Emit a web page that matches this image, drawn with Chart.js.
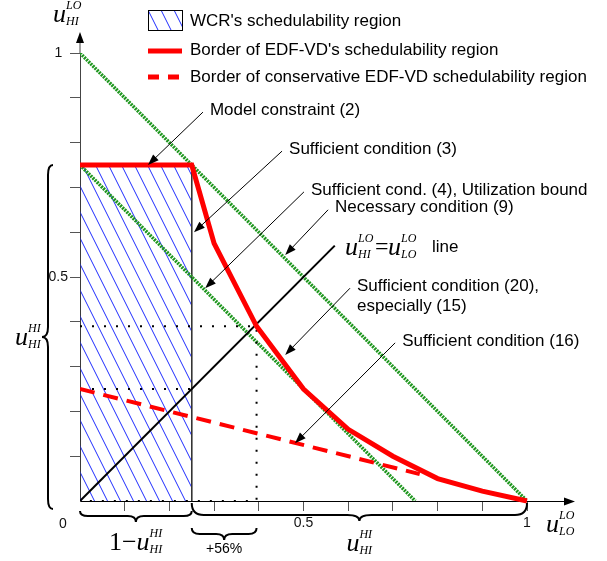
<!DOCTYPE html>
<html>
<head>
<meta charset="utf-8">
<script src="https://cdn.jsdelivr.net/npm/chart.js@4.4.0/dist/chart.umd.min.js"></script>
<style>
  html, body { margin: 0; padding: 0; background: #fff; }
  #wrap { width: 607px; height: 561px; }
</style>
</head>
<body>
<div id="wrap"><canvas id="myChart" width="607" height="561"></canvas></div>
<script>
// valori (piano u_LO^LO / u_HI^LO, entrambi 0..1)
const labelledTicks = [0.5, 1];
const labelledTickText = ["0.5", "1"];

// regione WCR (rettangolo tratteggiato)
const wcrX = [0, 0, 0.25, 0.25];
const wcrY = [0, 0.75, 0.75, 0];

// bordo EDF-VD
const edfX = [0, 0.25, 0.3, 0.395, 0.5, 0.6, 0.7, 0.8, 0.9, 1];
const edfY = [0.75, 0.75, 0.575, 0.39, 0.25, 0.16, 0.1, 0.05, 0.022, 0];

// bordo EDF-VD conservativo
const consX = [0, 0.76];
const consY = [0.25, 0.06];

// condizioni (9) e (4)
const necX = [0, 1];
const necY = [1, 0];
const utilX = [0, 0.75];
const utilY = [0.75, 0];

// retta u_HI^LO = u_LO^LO
const diagX = [0, 0.57];
const diagY = [0, 0.57];

// linee punteggiate
const dot1X = [0, 0.395, 0.395, 0];
const dot1Y = [0.39, 0.39, 0, 0];
const dot2X = [0, 0.25];
const dot2Y = [0.25, 0.25];

// annotazioni con freccia
const noteText = [
  "Model constraint (2)",
  "Sufficient condition (3)",
  "Sufficient cond. (4), Utilization bound",
  "Necessary condition (9)",
  "Sufficient condition (20),",
  "Sufficient condition (16)",
];
const noteFromX = [0.275, 0.452, 0.501, 0.555, 0.604, 0.705];
const noteFromY = [0.868, 0.781, 0.69, 0.65, 0.475, 0.353];
const noteToX = [0.152, 0.255, 0.28, 0.459, 0.459, 0.481];
const noteToY = [0.75, 0.6, 0.475, 0.549, 0.326, 0.129];

const legendText = [
  "WCR's schedulability region",
  "Border of EDF-VD's schedulability region",
  "Border of conservative EDF-VD schedulability region",
];

function toPts(xs, ys) {
  return xs.map((x, i) => ({ x: x, y: ys[i] }));
}

// pattern a righe blu
function makeHatch() {
  const c = document.createElement("canvas");
  c.width = 13;
  c.height = 26;
  const g = c.getContext("2d");
  g.strokeStyle = "#1f2cff";
  g.lineWidth = 1;
  for (let k = -1; k <= 1; k++) {
    g.beginPath();
    g.moveTo(k * 13, 0);
    g.lineTo(k * 13 + 13, 26);
    g.stroke();
  }
  return g.createPattern(c, "repeat");
}
const hatch = makeHatch();

function drawArrow(ctx, x1, y1, x2, y2) {
  const a = Math.atan2(y2 - y1, x2 - x1);
  const len = 11, half = 4;
  ctx.beginPath();
  ctx.moveTo(x1, y1);
  ctx.lineTo(x2 - Math.cos(a) * len * 0.8, y2 - Math.sin(a) * len * 0.8);
  ctx.stroke();
  ctx.beginPath();
  ctx.moveTo(x2, y2);
  ctx.lineTo(x2 - len * Math.cos(a) + half * Math.sin(a), y2 - len * Math.sin(a) - half * Math.cos(a));
  ctx.lineTo(x2 - len * Math.cos(a) - half * Math.sin(a), y2 - len * Math.sin(a) + half * Math.cos(a));
  ctx.closePath();
  ctx.fill();
}

function mathU(ctx, x, y, sup, sub) {
  ctx.textAlign = "left";
  ctx.textBaseline = "alphabetic";
  ctx.font = 'italic 26px "Liberation Serif"';
  ctx.fillText("u", x, y);
  const w = ctx.measureText("u").width;
  ctx.font = 'italic 12px "Liberation Serif"';
  ctx.fillText(sup, x + w, y - 13);
  ctx.fillText(sub, x + w, y + 3);
}

function hBrace(ctx, x1, x2, yEnd, ySpine, yTip, r) {
  const xm = (x1 + x2) / 2;
  ctx.beginPath();
  ctx.moveTo(x1, yEnd);
  ctx.quadraticCurveTo(x1, ySpine, x1 + r, ySpine);
  ctx.lineTo(xm - r, ySpine);
  ctx.quadraticCurveTo(xm, ySpine, xm, yTip);
  ctx.quadraticCurveTo(xm, ySpine, xm + r, ySpine);
  ctx.lineTo(x2 - r, ySpine);
  ctx.quadraticCurveTo(x2, ySpine, x2, yEnd);
  ctx.stroke();
}

function vBrace(ctx, y1, y2, xEnd, xSpine, xTip, r) {
  const ym = (y1 + y2) / 2;
  ctx.beginPath();
  ctx.moveTo(xEnd, y1);
  ctx.quadraticCurveTo(xSpine, y1, xSpine, y1 + r);
  ctx.lineTo(xSpine, ym - r);
  ctx.quadraticCurveTo(xSpine, ym, xTip, ym);
  ctx.quadraticCurveTo(xSpine, ym, xSpine, ym + r);
  ctx.lineTo(xSpine, y2 - r);
  ctx.quadraticCurveTo(xSpine, y2, xEnd, y2);
  ctx.stroke();
}

// disegni extra: assi con freccia, graffe, testi, legenda
const overlay = {
  id: "overlay",
  afterDraw(chart) {
    const ctx = chart.ctx;
    const xs = chart.scales.x, ys = chart.scales.y;
    const X = (v) => xs.getPixelForValue(v);
    const Y = (v) => ys.getPixelForValue(v);
    const x0 = X(0), y0 = Y(0);
    ctx.save();

    // frecce degli assi
    ctx.fillStyle = "#000";
    ctx.strokeStyle = "#444";
    ctx.lineWidth = 1;
    drawArrow(ctx, x0, Y(1), x0, 32);
    ctx.strokeStyle = "#000";
    drawArrow(ctx, X(1), y0 + 0.5, 575, y0 + 0.5);

    // origine
    ctx.font = '14px "Liberation Sans"';
    ctx.textAlign = "center";
    ctx.textBaseline = "middle";
    ctx.fillStyle = "#111";
    ctx.fillText("0", x0 - 17, y0 + 23);

    // graffe
    ctx.strokeStyle = "#000";
    ctx.lineWidth = 2;
    hBrace(ctx, X(0), X(0.25), y0 + 10, y0 + 15, y0 + 21, 8);
    hBrace(ctx, X(0.25), X(1), y0 + 2, y0 + 14, y0 + 20, 12);
    hBrace(ctx, X(0.25), X(0.395), y0 + 27, y0 + 33, y0 + 39, 8);
    vBrace(ctx, Y(0.75), y0 + 8, x0 - 27, x0 - 32, x0 - 38, 10);

    // etichette matematiche
    ctx.fillStyle = "#000";
    mathU(ctx, x0 - 27, 22, "LO", "HI");
    mathU(ctx, 546, y0 + 31, "LO", "LO");
    mathU(ctx, 15, Y(0.375) + 12, "HI", "HI");
    mathU(ctx, (X(0.25) + X(1)) / 2 - 13, y0 + 50, "HI", "HI");
    ctx.font = '26px "Liberation Serif"';
    ctx.fillText("1\u2212", X(0.125) - 27, y0 + 49);
    const wOne = ctx.measureText("1\u2212").width;
    mathU(ctx, X(0.125) - 27 + wOne, y0 + 49, "HI", "HI");

    ctx.font = '14px "Liberation Sans"';
    ctx.textAlign = "center";
    ctx.fillText("+56%", (X(0.25) + X(0.395)) / 2, y0 + 52);

    // equazione della retta
    const ex = 345, ey = 255;
    mathU(ctx, ex, ey, "LO", "HI");
    ctx.font = '24px "Liberation Serif"';
    ctx.textAlign = "left";
    ctx.fillText("=", ex + 30, ey - 1);
    mathU(ctx, ex + 43, ey, "LO", "LO");
    ctx.font = '17px "Liberation Sans"';
    ctx.textBaseline = "middle";
    ctx.fillText("line", ex + 87, ey - 8);

    // annotazioni
    ctx.lineWidth = 1;
    ctx.strokeStyle = "#000";
    ctx.fillStyle = "#000";
    for (let i = 0; i < noteText.length; i++) {
      const fx = X(noteFromX[i]), fy = Y(noteFromY[i]);
      drawArrow(ctx, fx, fy, X(noteToX[i]), Y(noteToY[i]));
      ctx.font = '17px "Liberation Sans"';
      ctx.textAlign = "left";
      ctx.textBaseline = "middle";
      ctx.fillText(noteText[i], fx + 7, fy - 2);
      if (i === 4) ctx.fillText("especially (15)", fx + 7, fy + 18);
    }

    // legenda
    const lx = 148, lw = 34;
    ctx.fillStyle = hatch;
    ctx.fillRect(lx, 10, lw, 20);
    ctx.strokeStyle = "#000";
    ctx.lineWidth = 1;
    ctx.strokeRect(lx + 0.5, 10.5, lw, 20);
    ctx.strokeStyle = "#ff0000";
    ctx.lineWidth = 5;
    ctx.beginPath();
    ctx.moveTo(lx, 51);
    ctx.lineTo(lx + lw, 51);
    ctx.stroke();
    ctx.setLineDash([11, 9]);
    ctx.beginPath();
    ctx.moveTo(lx, 77);
    ctx.lineTo(lx + lw, 77);
    ctx.stroke();
    ctx.setLineDash([]);
    ctx.fillStyle = "#000";
    ctx.font = '17px "Liberation Sans"';
    ctx.textAlign = "left";
    ctx.textBaseline = "middle";
    ctx.fillText(legendText[0], 190, 21);
    ctx.fillText(legendText[1], 190, 50);
    ctx.fillText(legendText[2], 190, 77);

    ctx.restore();
  },
};

const tickColor = (c) => (c.tick && c.tick.value === 0 ? "rgba(0,0,0,0)" : "#555");
const tickLabel = (value) => {
  const i = labelledTicks.findIndex((t) => Math.abs(t - value) < 1e-6);
  return i >= 0 ? labelledTickText[i] : "";
};

Chart.defaults.font.family = '"Liberation Sans", Arial, sans-serif';
Chart.defaults.color = "#111";

const ctx = document.getElementById("myChart").getContext("2d");
const myChart = new Chart(ctx, {
  type: "scatter",
  data: {
    datasets: [
      {
        data: toPts(edfX, edfY),
        showLine: true,
        borderColor: "#ff0000",
        borderWidth: 5,
        pointRadius: 0,
        clip: false,
        order: 1,
      },
      {
        data: toPts(consX, consY),
        showLine: true,
        borderColor: "#ff0000",
        borderWidth: 4,
        borderDash: [15, 9],
        pointRadius: 0,
        order: 2,
      },
      {
        data: toPts(diagX, diagY),
        showLine: true,
        borderColor: "#000",
        borderWidth: 2,
        pointRadius: 0,
        order: 3,
      },
      {
        data: toPts(dot1X, dot1Y),
        showLine: true,
        borderColor: "#000",
        borderWidth: 2,
        borderDash: [2, 10],
        pointRadius: 0,
        order: 4,
      },
      {
        data: toPts(dot2X, dot2Y),
        showLine: true,
        borderColor: "#000",
        borderWidth: 2,
        borderDash: [2, 10],
        pointRadius: 0,
        order: 4,
      },
      {
        data: toPts(necX, necY),
        showLine: true,
        borderColor: "rgb(30,150,30)",
        borderWidth: 3.5,
        borderDash: [2, 1],
        pointRadius: 0,
        order: 5,
      },
      {
        data: toPts(utilX, utilY),
        showLine: true,
        borderColor: "rgb(30,150,30)",
        borderWidth: 3.5,
        borderDash: [2, 1],
        pointRadius: 0,
        order: 5,
      },
      {
        data: toPts(wcrX, wcrY),
        showLine: true,
        borderColor: "#333",
        borderWidth: 1,
        backgroundColor: hatch,
        fill: "origin",
        pointRadius: 0,
        order: 10,
      },
    ],
  },
  options: {
    responsive: false,
    animation: false,
    devicePixelRatio: 1,
    layout: { padding: { left: 0, right: 80, top: 53, bottom: 0 } },
    plugins: { legend: { display: false }, tooltip: { enabled: false } },
    scales: {
      x: {
        type: "linear",
        min: 0,
        max: 1,
        afterFit: (s) => { s.height = 60; },
        border: { color: "#000", width: 1 },
        grid: { drawOnChartArea: false, tickLength: 10, tickColor: tickColor },
        ticks: { stepSize: 0.1, autoSkip: false, maxRotation: 0, padding: 4, font: { size: 14 }, callback: tickLabel },
      },
      y: {
        type: "linear",
        min: 0,
        max: 1,
        afterFit: (s) => { s.width = 80; },
        border: { color: "#444", width: 1 },
        grid: { drawOnChartArea: false, tickLength: 10, tickColor: tickColor },
        ticks: { stepSize: 0.1, autoSkip: false, padding: 2, crossAlign: "center", font: { size: 14 }, callback: tickLabel },
      },
    },
  },
  plugins: [overlay],
});
</script>
</body>
</html>
